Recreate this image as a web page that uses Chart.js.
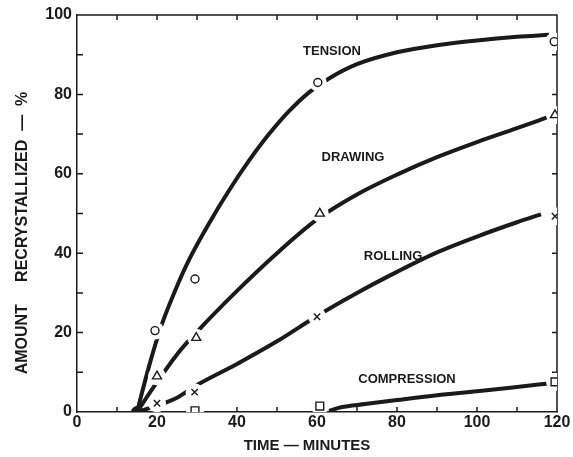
<!DOCTYPE html>
<html>
<head>
<meta charset="utf-8">
<script src="https://cdn.jsdelivr.net/npm/chart.js@4/dist/chart.umd.min.js"></script>
<style>
html, body { margin: 0; padding: 0; background: #fff; }
#wrap { width: 573px; height: 457px; }
</style>
</head>
<body>
<div id="wrap"><canvas id="myChart"></canvas></div>
<script>
// smooth curves: [minutes, % recrystallized]
const tensionCurve = [[15,0],[18,11.5],[21,21.5],[24.5,30.5],[28,38.3],[33,47.5],[38,55.8],[43,63.3],[48,70],[53,75.8],[58,80.5],[63,84],[70,87.6],[80,90.6],[90,92.4],[100,93.6],[110,94.5],[118,95]];
const drawingCurve = [[15,0],[20,7.5],[25,14.5],[30,20.2],[40,30.5],[50,40],[60,48.5],[70,54.8],[80,59.8],[90,64.2],[100,68],[110,71.5],[117.5,74.2]];
const rollingCurve = [[15,0],[20,1.6],[25,3.6],[30,6.8],[40,12.1],[50,17.8],[60,24.2],[70,30],[80,35.3],[90,40.2],[100,44.2],[110,47.8],[116,49.8]];
const compressionCurve = [[63,0.3],[66,1.2],[72,2],[80,3],[90,4.2],[100,5.2],[110,6.3],[118,7.2]];

// measured points
const tensionPts = [[19.5,20.5],[29.5,33.5],[60.2,83],[119.3,93.3]];
const drawingPts = [[20,9],[29.8,18.7],[60.7,50],[119.5,74.8]];
const rollingPts = [[20,2.2],[29.4,5],[60,24],[119.5,49.3]];
const compressionPts = [[29.5,0.3],[60.7,1.5],[119.5,7.6]];
const originPt = [[15,0]];

// curve names, placed next to each curve
const curveLabels = ['TENSION', 'DRAWING', 'ROLLING', 'COMPRESSION'];
const labelPos = [[63.75,90.7],[69,64.2],[79,39.3],[82.5,8.3]];

const xTicks = [0, 20, 40, 60, 80, 100, 120];
const yTicks = [0, 20, 40, 60, 80, 100];

const ink = '#1a1a1a';
const xy = arr => arr.map(p => ({x: p[0], y: p[1]}));

function curve(data) {
	return {
		data: xy(data),
		showLine: true,
		borderColor: ink,
		borderWidth: 4,
		pointRadius: 0,
		cubicInterpolationMode: 'monotone',
		order: 3
	};
}

function marks(data, style, r) {
	return {
		data: xy(data),
		showLine: false,
		pointStyle: style,
		pointRadius: r,
		pointBorderWidth: 1.4,
		pointBorderColor: ink,
		pointBackgroundColor: '#fff',
		order: 1
	};
}

// white disks behind the markers to break the lines, as in the drawing
const allPts = tensionPts.concat(drawingPts, rollingPts, compressionPts);

const extras = {
	id: 'extras',
	beforeDatasetsDraw(chart) {
		const {ctx, chartArea: a, scales: {x, y}} = chart;
		ctx.save();
		ctx.strokeStyle = ink;
		ctx.lineWidth = 1.5;
		ctx.beginPath();
		ctx.moveTo(a.left, a.top);
		ctx.lineTo(a.right, a.top);
		ctx.lineTo(a.right, a.bottom);
		//minor ticks pointing inward
		for (let v = 10; v < 120; v += 10) {
			const px = x.getPixelForValue(v);
			ctx.moveTo(px, a.bottom); ctx.lineTo(px, a.bottom - 5);
			ctx.moveTo(px, a.top); ctx.lineTo(px, a.top + 5);
		}
		for (let v = 10; v < 100; v += 10) {
			const py = y.getPixelForValue(v);
			ctx.moveTo(a.left, py); ctx.lineTo(a.left + 6, py);
			ctx.moveTo(a.right, py); ctx.lineTo(a.right - 5, py);
		}
		ctx.stroke();
		ctx.restore();
	},
	afterDraw(chart) {
		const {ctx, chartArea: a, scales: {x, y}} = chart;
		ctx.save();
		ctx.fillStyle = ink;
		ctx.textAlign = 'center';
		ctx.textBaseline = 'middle';
		ctx.font = 'bold 13px "Liberation Sans", Arial, sans-serif';
		curveLabels.forEach((t, i) => {
			ctx.fillText(t, x.getPixelForValue(labelPos[i][0]), y.getPixelForValue(labelPos[i][1]));
		});
		ctx.font = 'bold 15px "Liberation Sans", Arial, sans-serif';
		ctx.fillText('TIME \u2014 MINUTES', a.left + 230, 446);
		ctx.translate(23, 233);
		ctx.rotate(-Math.PI / 2);
		ctx.font = 'bold 16px "Liberation Sans", Arial, sans-serif';
		ctx.fillText('AMOUNT     RECRYSTALLIZED  \u2014  %', 0, 0);
		ctx.restore();
	}
};

const ctx = document.getElementById('myChart').getContext('2d');
new Chart(ctx, {
	type: 'scatter',
	data: {
		datasets: [
			curve(tensionCurve),
			curve(drawingCurve),
			curve(rollingCurve),
			curve(compressionCurve),
			{
				data: xy(allPts),
				showLine: false,
				pointStyle: 'circle',
				pointRadius: 9,
				pointBorderWidth: 0,
				pointBackgroundColor: '#fff',
				order: 2
			},
			marks(tensionPts, 'circle', 4),
			marks(drawingPts, 'triangle', 5.2),
			marks(rollingPts, 'crossRot', 4.5),
			marks(compressionPts, 'rect', 5.5),
			{
				data: xy(originPt),
				showLine: false,
				pointRadius: 5.5,
				pointBackgroundColor: ink,
				pointBorderColor: ink,
				order: 0
			}
		]
	},
	options: {
		responsive: true,
		maintainAspectRatio: false,
		animation: false,
		layout: { padding: { top: 15, right: 16, left: 0, bottom: 0 } },
		plugins: { legend: { display: false }, tooltip: { enabled: false } },
		scales: {
			x: {
				type: 'linear',
				min: 0, max: 120,
				afterFit: s => { s.height = 45; },
				afterBuildTicks: s => { s.ticks = xTicks.map(v => ({value: v})); },
				grid: { display: false, drawTicks: false },
				border: { display: true, color: ink, width: 1.5 },
				ticks: { color: ink, padding: 1, maxRotation: 0, font: { family: '"Liberation Sans", Arial, sans-serif', size: 16, weight: 'bold' } }
			},
			y: {
				min: 0, max: 100,
				afterFit: s => { s.width = 77; },
				afterBuildTicks: s => { s.ticks = yTicks.map(v => ({value: v})); },
				grid: { display: false, drawTicks: false },
				border: { display: true, color: ink, width: 1.5 },
				ticks: { color: ink, padding: 5, font: { family: '"Liberation Sans", Arial, sans-serif', size: 16, weight: 'bold' } }
			}
		}
	},
	plugins: [extras]
});
</script>
</body>
</html>
